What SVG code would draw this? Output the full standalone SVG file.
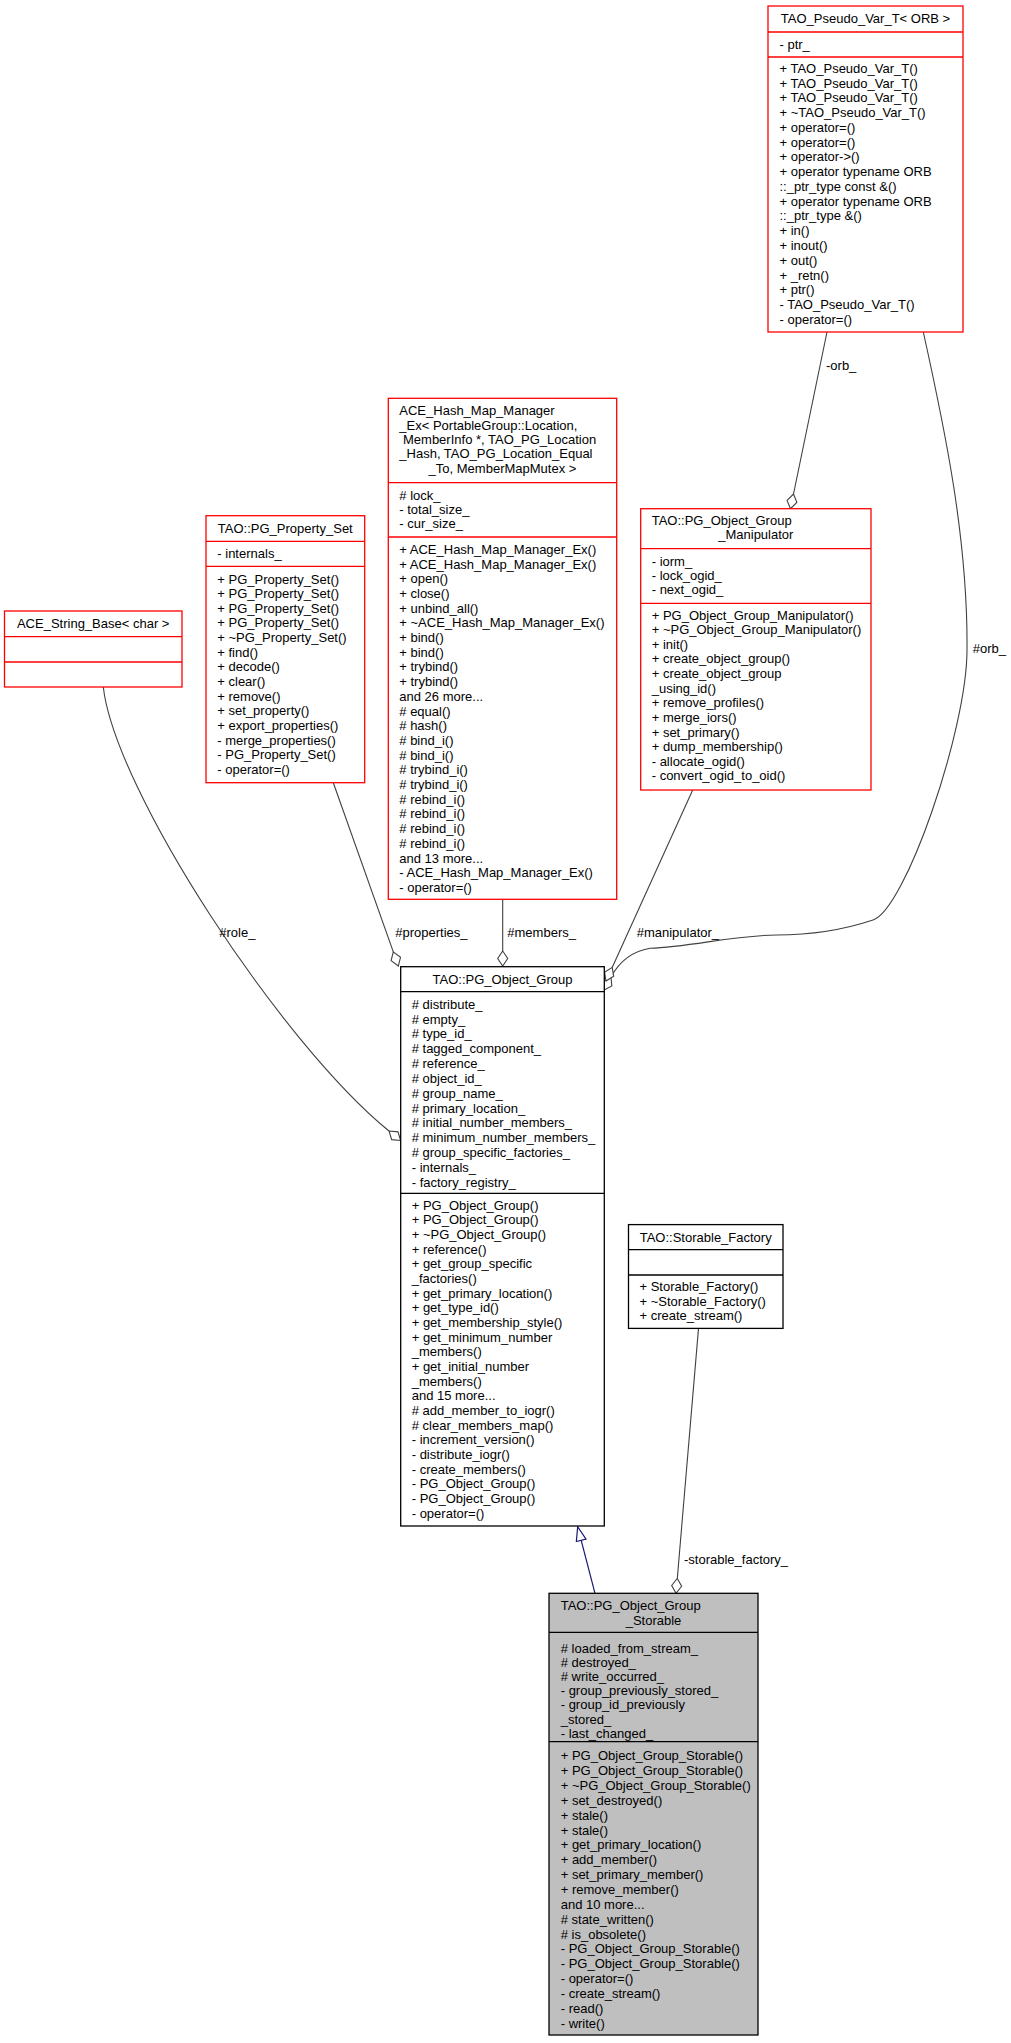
<svg xmlns="http://www.w3.org/2000/svg" width="1011" height="2043" viewBox="0 0 1011 2043">
<style>
.t{font-family:"Liberation Sans",Arial,Helvetica,sans-serif;font-size:13px;fill:#000}
.c{text-anchor:middle}
.red{fill:#fff;stroke:#ff0000;stroke-width:1.3}
.blk{fill:#fff;stroke:#000;stroke-width:1.3}
.gry{fill:#bfbfbf;stroke:#000;stroke-width:1.3}
.sr{stroke:#ff0000;stroke-width:1.3}
.sb{stroke:#000;stroke-width:1.3}
.e{fill:none;stroke:#404040;stroke-width:1.1}
.inh{fill:none;stroke:#191970;stroke-width:1.2}
</style>
<defs>
<marker id="dia" markerUnits="userSpaceOnUse" viewBox="-1 -6 17 12" refX="0" refY="0" markerWidth="17" markerHeight="12" orient="auto">
<path d="M0,0 L7.5,-5 L15,0 L7.5,5 Z" fill="#fff" stroke="#404040" stroke-width="1.1"/>
</marker>
<marker id="tri" markerUnits="userSpaceOnUse" viewBox="-1 -6 17 12" refX="0" refY="0" markerWidth="17" markerHeight="12" orient="auto">
<path d="M0,-5 L14,0 L0,5 Z" fill="#fff" stroke="#191970" stroke-width="1.2"/>
</marker>
</defs>

<g id="connectors">
<path class="e" d="M827,332 L793.5,494" marker-end="url(#dia)"/>
<text class="t" x="826" y="370">-orb_</text>
<path class="e" d="M923.3,332 C945,430 968,540 967,650 C967,730 905,910 873,920 C840,931 810,935 776.7,935 C735,935 690,947 650,948.3 C628,952 617,966 611,977" marker-end="url(#dia)"/>
<text class="t" x="972.7" y="652.8">#orb_</text>
<path class="e" d="M103.3,687 C115,790 280,1042 389,1131" marker-end="url(#dia)"/>
<text class="t" x="219.3" y="937.2">#role_</text>
<path class="e" d="M333.3,782.7 L393.3,951.9" marker-end="url(#dia)"/>
<text class="t" x="395.3" y="937.2">#properties_</text>
<path class="e" d="M502.7,899.3 L502.7,951" marker-end="url(#dia)"/>
<text class="t" x="507.3" y="937.2">#members_</text>
<path class="e" d="M692.7,790 L612.2,967.4" marker-end="url(#dia)"/>
<text class="t" x="636.7" y="937.2">#manipulator_</text>
<path class="e" d="M698.5,1328.4 L677.3,1578.4" marker-end="url(#dia)"/>
<text class="t" x="684" y="1563.8">-storable_factory_</text>
<path class="inh" d="M595,1593.3 L581.2,1540.3" marker-end="url(#tri)"/>
</g>

<g id="node_pseudo_var">
<rect class="red" x="768" y="6" width="195" height="326"/>
<line class="sr" x1="768" y1="32" x2="963" y2="32"/>
<line class="sr" x1="768" y1="57" x2="963" y2="57"/>
<text class="t c" x="865.5" y="22.8">TAO_Pseudo_Var_T&lt; ORB &gt;</text>
<text class="t" x="779.5" y="48.8">- ptr_</text>
<text class="t" y="72.8"><tspan x="779.5">+ TAO_Pseudo_Var_T()</tspan><tspan x="779.5" dy="14.765">+ TAO_Pseudo_Var_T()</tspan><tspan x="779.5" dy="14.765">+ TAO_Pseudo_Var_T()</tspan><tspan x="779.5" dy="14.765">+ ~TAO_Pseudo_Var_T()</tspan><tspan x="779.5" dy="14.765">+ operator=()</tspan><tspan x="779.5" dy="14.765">+ operator=()</tspan><tspan x="779.5" dy="14.765">+ operator-&gt;()</tspan><tspan x="779.5" dy="14.765">+ operator typename ORB</tspan><tspan x="779.5" dy="14.765">::_ptr_type const &amp;()</tspan><tspan x="779.5" dy="14.765">+ operator typename ORB</tspan><tspan x="779.5" dy="14.765">::_ptr_type &amp;()</tspan><tspan x="779.5" dy="14.765">+ in()</tspan><tspan x="779.5" dy="14.765">+ inout()</tspan><tspan x="779.5" dy="14.765">+ out()</tspan><tspan x="779.5" dy="14.765">+ _retn()</tspan><tspan x="779.5" dy="14.765">+ ptr()</tspan><tspan x="779.5" dy="14.765">- TAO_Pseudo_Var_T()</tspan><tspan x="779.5" dy="14.765">- operator=()</tspan></text>
</g>

<g id="node_ace_string_base">
<rect class="red" x="4.5" y="611" width="177.5" height="76"/>
<line class="sr" x1="4.5" y1="636.7" x2="182" y2="636.7"/>
<line class="sr" x1="4.5" y1="662" x2="182" y2="662"/>
<text class="t c" x="93.2" y="627.8">ACE_String_Base&lt; char &gt;</text>
</g>

<g id="node_property_set">
<rect class="red" x="206" y="515.7" width="158.7" height="267"/>
<line class="sr" x1="206" y1="541.3" x2="364.7" y2="541.3"/>
<line class="sr" x1="206" y1="566.3" x2="364.7" y2="566.3"/>
<text class="t c" x="285.3" y="532.6">TAO::PG_Property_Set</text>
<text class="t" x="217.3" y="558.2">- internals_</text>
<text class="t" y="583.5"><tspan x="217.3">+ PG_Property_Set()</tspan><tspan x="217.3" dy="14.64">+ PG_Property_Set()</tspan><tspan x="217.3" dy="14.64">+ PG_Property_Set()</tspan><tspan x="217.3" dy="14.64">+ PG_Property_Set()</tspan><tspan x="217.3" dy="14.64">+ ~PG_Property_Set()</tspan><tspan x="217.3" dy="14.64">+ find()</tspan><tspan x="217.3" dy="14.64">+ decode()</tspan><tspan x="217.3" dy="14.64">+ clear()</tspan><tspan x="217.3" dy="14.64">+ remove()</tspan><tspan x="217.3" dy="14.64">+ set_property()</tspan><tspan x="217.3" dy="14.64">+ export_properties()</tspan><tspan x="217.3" dy="14.64">- merge_properties()</tspan><tspan x="217.3" dy="14.64">- PG_Property_Set()</tspan><tspan x="217.3" dy="14.64">- operator=()</tspan></text>
</g>

<g id="node_hash_map_manager">
<rect class="red" x="388.3" y="398.3" width="228.4" height="501"/>
<line class="sr" x1="388.3" y1="482.7" x2="616.7" y2="482.7"/>
<line class="sr" x1="388.3" y1="537" x2="616.7" y2="537"/>
<text class="t" x="399.3" y="415.2">ACE_Hash_Map_Manager</text>
<text class="t" x="399.3" y="429.5">_Ex&lt; PortableGroup::Location,</text>
<text class="t" x="403" y="443.8">MemberInfo *, TAO_PG_Location</text>
<text class="t" x="399.3" y="458.2">_Hash, TAO_PG_Location_Equal</text>
<text class="t c" x="502.5" y="472.5">_To, MemberMapMutex &gt;</text>
<text class="t" y="499.5"><tspan x="399.3"># lock_</tspan><tspan x="399.3" dy="14.2">- total_size_</tspan><tspan x="399.3" dy="14.2">- cur_size_</tspan></text>
<text class="t" y="553.8"><tspan x="399.3">+ ACE_Hash_Map_Manager_Ex()</tspan><tspan x="399.3" dy="14.7">+ ACE_Hash_Map_Manager_Ex()</tspan><tspan x="399.3" dy="14.7">+ open()</tspan><tspan x="399.3" dy="14.7">+ close()</tspan><tspan x="399.3" dy="14.7">+ unbind_all()</tspan><tspan x="399.3" dy="14.7">+ ~ACE_Hash_Map_Manager_Ex()</tspan><tspan x="399.3" dy="14.7">+ bind()</tspan><tspan x="399.3" dy="14.7">+ bind()</tspan><tspan x="399.3" dy="14.7">+ trybind()</tspan><tspan x="399.3" dy="14.7">+ trybind()</tspan><tspan x="399.3" dy="14.7">and 26 more...</tspan><tspan x="399.3" dy="14.7"># equal()</tspan><tspan x="399.3" dy="14.7"># hash()</tspan><tspan x="399.3" dy="14.7"># bind_i()</tspan><tspan x="399.3" dy="14.7"># bind_i()</tspan><tspan x="399.3" dy="14.7"># trybind_i()</tspan><tspan x="399.3" dy="14.7"># trybind_i()</tspan><tspan x="399.3" dy="14.7"># rebind_i()</tspan><tspan x="399.3" dy="14.7"># rebind_i()</tspan><tspan x="399.3" dy="14.7"># rebind_i()</tspan><tspan x="399.3" dy="14.7"># rebind_i()</tspan><tspan x="399.3" dy="14.7">and 13 more...</tspan><tspan x="399.3" dy="14.7">- ACE_Hash_Map_Manager_Ex()</tspan><tspan x="399.3" dy="14.7">- operator=()</tspan></text>
</g>

<g id="node_manipulator">
<rect class="red" x="640.7" y="508.7" width="230.3" height="281.3"/>
<line class="sr" x1="640.7" y1="548.7" x2="871" y2="548.7"/>
<line class="sr" x1="640.7" y1="603.3" x2="871" y2="603.3"/>
<text class="t" x="651.7" y="525.2">TAO::PG_Object_Group</text>
<text class="t c" x="755.8" y="538.8">_Manipulator</text>
<text class="t" y="565.5"><tspan x="651.7">- iorm_</tspan><tspan x="651.7" dy="14.15">- lock_ogid_</tspan><tspan x="651.7" dy="14.15">- next_ogid_</tspan></text>
<text class="t" y="619.5"><tspan x="651.7">+ PG_Object_Group_Manipulator()</tspan><tspan x="651.7" dy="14.636">+ ~PG_Object_Group_Manipulator()</tspan><tspan x="651.7" dy="14.636">+ init()</tspan><tspan x="651.7" dy="14.636">+ create_object_group()</tspan><tspan x="651.7" dy="14.636">+ create_object_group</tspan><tspan x="651.7" dy="14.636">_using_id()</tspan><tspan x="651.7" dy="14.636">+ remove_profiles()</tspan><tspan x="651.7" dy="14.636">+ merge_iors()</tspan><tspan x="651.7" dy="14.636">+ set_primary()</tspan><tspan x="651.7" dy="14.636">+ dump_membership()</tspan><tspan x="651.7" dy="14.636">- allocate_ogid()</tspan><tspan x="651.7" dy="14.636">- convert_ogid_to_oid()</tspan></text>
</g>

<g id="node_pg_object_group">
<rect class="blk" x="400.7" y="966.7" width="203.6" height="559.3"/>
<line class="sb" x1="400.7" y1="991.7" x2="604.3" y2="991.7"/>
<line class="sb" x1="400.7" y1="1193.3" x2="604.3" y2="1193.3"/>
<text class="t c" x="502.5" y="983.5">TAO::PG_Object_Group</text>
<text class="t" y="1008.8"><tspan x="411.7"># distribute_</tspan><tspan x="411.7" dy="14.833"># empty_</tspan><tspan x="411.7" dy="14.833"># type_id_</tspan><tspan x="411.7" dy="14.833"># tagged_component_</tspan><tspan x="411.7" dy="14.833"># reference_</tspan><tspan x="411.7" dy="14.833"># object_id_</tspan><tspan x="411.7" dy="14.833"># group_name_</tspan><tspan x="411.7" dy="14.833"># primary_location_</tspan><tspan x="411.7" dy="14.833"># initial_number_members_</tspan><tspan x="411.7" dy="14.833"># minimum_number_members_</tspan><tspan x="411.7" dy="14.833"># group_specific_factories_</tspan><tspan x="411.7" dy="14.833">- internals_</tspan><tspan x="411.7" dy="14.833">- factory_registry_</tspan></text>
<text class="t" y="1209.5"><tspan x="411.7">+ PG_Object_Group()</tspan><tspan x="411.7" dy="14.68">+ PG_Object_Group()</tspan><tspan x="411.7" dy="14.68">+ ~PG_Object_Group()</tspan><tspan x="411.7" dy="14.68">+ reference()</tspan><tspan x="411.7" dy="14.68">+ get_group_specific</tspan><tspan x="411.7" dy="14.68">_factories()</tspan><tspan x="411.7" dy="14.68">+ get_primary_location()</tspan><tspan x="411.7" dy="14.68">+ get_type_id()</tspan><tspan x="411.7" dy="14.68">+ get_membership_style()</tspan><tspan x="411.7" dy="14.68">+ get_minimum_number</tspan><tspan x="411.7" dy="14.68">_members()</tspan><tspan x="411.7" dy="14.68">+ get_initial_number</tspan><tspan x="411.7" dy="14.68">_members()</tspan><tspan x="411.7" dy="14.68">and 15 more...</tspan><tspan x="411.7" dy="14.68"># add_member_to_iogr()</tspan><tspan x="411.7" dy="14.68"># clear_members_map()</tspan><tspan x="411.7" dy="14.68">- increment_version()</tspan><tspan x="411.7" dy="14.68">- distribute_iogr()</tspan><tspan x="411.7" dy="14.68">- create_members()</tspan><tspan x="411.7" dy="14.68">- PG_Object_Group()</tspan><tspan x="411.7" dy="14.68">- PG_Object_Group()</tspan><tspan x="411.7" dy="14.68">- operator=()</tspan></text>
</g>

<g id="node_storable_factory">
<rect class="blk" x="628.5" y="1224.6" width="154.5" height="103.8"/>
<line class="sb" x1="628.5" y1="1249.6" x2="783" y2="1249.6"/>
<line class="sb" x1="628.5" y1="1275" x2="783" y2="1275"/>
<text class="t c" x="705.7" y="1241.5">TAO::Storable_Factory</text>
<text class="t" y="1290.8"><tspan x="639.5">+ Storable_Factory()</tspan><tspan x="639.5" dy="14.7">+ ~Storable_Factory()</tspan><tspan x="639.5" dy="14.7">+ create_stream()</tspan></text>
</g>

<g id="node_pg_object_group_storable">
<rect class="gry" x="549" y="1593.3" width="209" height="441.7"/>
<line class="sb" x1="549" y1="1632.3" x2="758" y2="1632.3"/>
<line class="sb" x1="549" y1="1741.7" x2="758" y2="1741.7"/>
<text class="t" x="560.7" y="1609.5">TAO::PG_Object_Group</text>
<text class="t c" x="653.5" y="1624.5">_Storable</text>
<text class="t" y="1652.8"><tspan x="560.7"># loaded_from_stream_</tspan><tspan x="560.7" dy="14.17"># destroyed_</tspan><tspan x="560.7" dy="14.17"># write_occurred_</tspan><tspan x="560.7" dy="14.17">- group_previously_stored_</tspan><tspan x="560.7" dy="14.17">- group_id_previously</tspan><tspan x="560.7" dy="14.17">_stored_</tspan><tspan x="560.7" dy="14.17">- last_changed_</tspan></text>
<text class="t" y="1760.2"><tspan x="560.7">+ PG_Object_Group_Storable()</tspan><tspan x="560.7" dy="14.867">+ PG_Object_Group_Storable()</tspan><tspan x="560.7" dy="14.867">+ ~PG_Object_Group_Storable()</tspan><tspan x="560.7" dy="14.867">+ set_destroyed()</tspan><tspan x="560.7" dy="14.867">+ stale()</tspan><tspan x="560.7" dy="14.867">+ stale()</tspan><tspan x="560.7" dy="14.867">+ get_primary_location()</tspan><tspan x="560.7" dy="14.867">+ add_member()</tspan><tspan x="560.7" dy="14.867">+ set_primary_member()</tspan><tspan x="560.7" dy="14.867">+ remove_member()</tspan><tspan x="560.7" dy="14.867">and 10 more...</tspan><tspan x="560.7" dy="14.867"># state_written()</tspan><tspan x="560.7" dy="14.867"># is_obsolete()</tspan><tspan x="560.7" dy="14.867">- PG_Object_Group_Storable()</tspan><tspan x="560.7" dy="14.867">- PG_Object_Group_Storable()</tspan><tspan x="560.7" dy="14.867">- operator=()</tspan><tspan x="560.7" dy="14.867">- create_stream()</tspan><tspan x="560.7" dy="14.867">- read()</tspan><tspan x="560.7" dy="14.867">- write()</tspan></text>
</g>
</svg>
